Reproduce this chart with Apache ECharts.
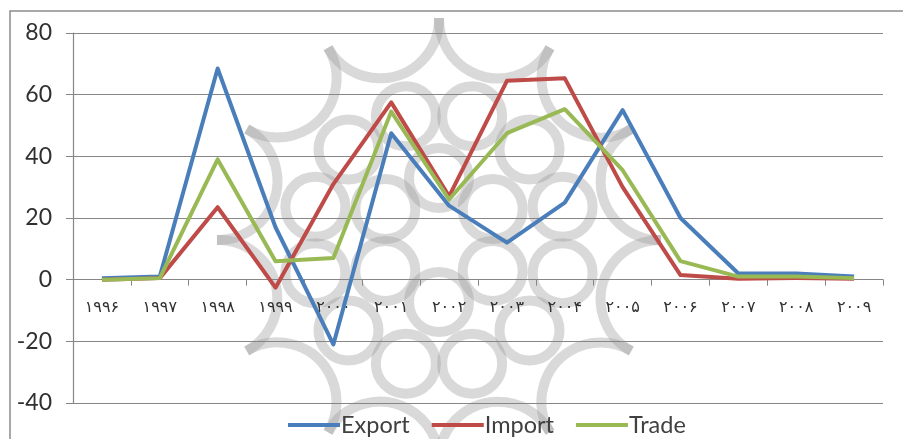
<!DOCTYPE html>
<html>
<head>
<meta charset="utf-8">
<script src="https://cdn.jsdelivr.net/npm/echarts@6/dist/echarts.min.js"></script>
<style>
  html, body { margin: 0; padding: 0; background: #fff; }
  #chart { width: 903px; height: 439px; }
</style>
</head>
<body>
<div id="chart"></div>
<script>
// Years, written with Persian digits
const years = ['۱۹۹۶', '۱۹۹۷', '۱۹۹۸', '۱۹۹۹', '۲۰۰۰', '۲۰۰۱', '۲۰۰۲',
               '۲۰۰۳', '۲۰۰۴', '۲۰۰۵', '۲۰۰۶', '۲۰۰۷', '۲۰۰۸', '۲۰۰۹'];

// Growth rates (%)
const exportValues = [0.5, 1, 68.5, 17, -21, 47.5, 24, 12, 25, 55, 20, 2, 2, 1];
const importValues = [0, 0.5, 23.5, -2.6, 31, 57.5, 27, 64.5, 65.3, 30, 1.5, 0.3, 0.5, 0.3];
const tradeValues  = [0, 0.5, 39, 6, 7, 54.5, 26, 47.5, 55.3, 35.5, 6, 1, 1, 0.5];

const yTicks = { min: -40, max: 80, step: 20 };

const GRID = { left: 73, right: 20, top: 33, bottom: 36 };
const PLOT_H = 439 - GRID.top - GRID.bottom;
// distance from the bottom of the plot up to the zero line
const zeroLift = PLOT_H * (0 - yTicks.min) / (yTicks.max - yTicks.min);

// Faint decorative rosette behind the plot: a twelve-point scalloped star with loops inside
function rosette(cx, cy) {
  const stroke = { fill: 'none', stroke: 'rgba(150,150,150,0.36)', lineWidth: 10 };
  const items = [];
  const R = 222, n = 12;
  const half = R * Math.sin(Math.PI / n);
  const sag = 45;
  const r = (half * half + sag * sag) / (2 * sag);
  const dist = R * Math.cos(Math.PI / n) + (r - sag);
  const span = Math.asin(half / r);
  for (let k = 0; k < n; k++) {
    const a = -Math.PI / 2 + (k + 0.5) * 2 * Math.PI / n;
    const x = cx + dist * Math.cos(a), y = cy + dist * Math.sin(a);
    const inward = a + Math.PI;
    items.push({
      type: 'arc', silent: true, z: -20,
      shape: { cx: x, cy: y, r, startAngle: inward - span, endAngle: inward + span, clockwise: true },
      style: stroke
    });
  }
  const ring = (d, rr, count, offsetDeg) => {
    for (let k = 0; k < count; k++) {
      const a = -Math.PI / 2 + (offsetDeg * Math.PI / 180) + k * 2 * Math.PI / count;
      items.push({
        type: 'circle', silent: true, z: -20,
        shape: { cx: cx + d * Math.cos(a), cy: cy + d * Math.sin(a), r: rr },
        style: stroke
      });
    }
  };
  ring(128, 30, 12, 15);
  ring(62, 30, 6, 0);
  return items;
}

const chart = echarts.init(document.getElementById('chart'));

const lineSeries = (name, data, color) => ({
  name, type: 'line', data,
  symbol: 'none',
  lineStyle: { color, width: 4, join: 'round' },
  itemStyle: { color },
  z: 3
});

chart.setOption({
  animation: false,
  backgroundColor: '#ffffff',
  graphic: rosette(439, 240).concat([{
    type: 'rect',
    shape: { x: 10, y: 11, width: 900, height: 440 },
    style: { fill: 'none', stroke: '#8c8c8c', lineWidth: 1.5 },
    silent: true, z: -10
  }]),
  grid: GRID,
  legend: {
    bottom: -3, left: 283,
    itemWidth: 52, itemHeight: 4, itemGap: 22,
    icon: 'rect',
    textStyle: { fontFamily: 'Lato', fontSize: 23.5, color: '#404040', padding: [0, 0, 0, -4] },
    data: ['Export', 'Import', 'Trade']
  },
  xAxis: {
    type: 'category',
    data: years,
    boundaryGap: true,
    position: 'bottom',
    offset: -zeroLift,
    axisLine: { onZero: false, lineStyle: { color: '#868686', width: 1.2 } },
    axisTick: { show: true, length: 6, lineStyle: { color: '#868686' } },
    axisLabel: { fontFamily: 'DejaVu Sans', fontSize: 16, color: '#303030', margin: 20, interval: 0 },
    splitLine: { show: false }
  },
  yAxis: {
    type: 'value',
    min: yTicks.min, max: yTicks.max, interval: yTicks.step,
    axisLine: { show: true, lineStyle: { color: '#868686', width: 1.2 } },
    axisTick: { show: true, length: 7, lineStyle: { color: '#868686' } },
    axisLabel: { fontFamily: 'Lato', fontSize: 23, color: '#303030', margin: 21 },
    splitLine: { lineStyle: { color: '#868686', width: 1.2 } }
  },
  series: [
    lineSeries('Export', exportValues, '#4a7ebb'),
    lineSeries('Import', importValues, '#be4b48'),
    lineSeries('Trade', tradeValues, '#98b954')
  ]
});
</script>
</body>
</html>
